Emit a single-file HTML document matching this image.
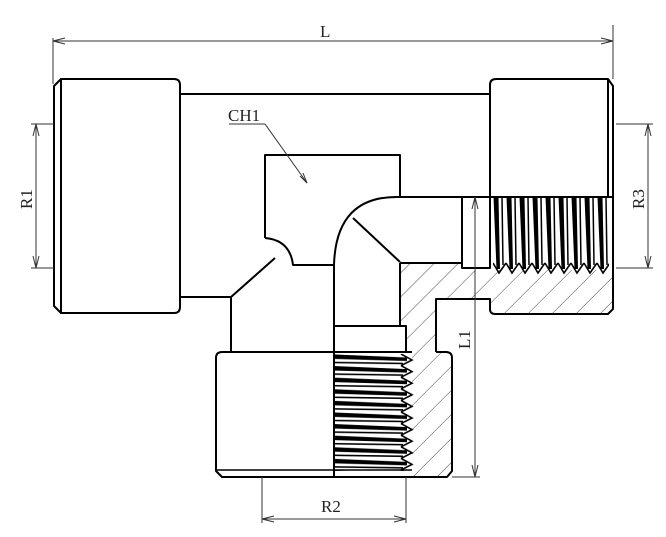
<!DOCTYPE html>
<html><head><meta charset="utf-8"><style>
html,body{margin:0;padding:0;background:#fff;}
svg{display:block}
text{font-family:"Liberation Serif","Times New Roman",serif;fill:#222;font-size:17px}
</style></head><body>
<svg width="666" height="537" viewBox="0 0 666 537" xmlns="http://www.w3.org/2000/svg">
<defs>
<pattern id="hatch" patternUnits="userSpaceOnUse" width="17" height="17" patternTransform="rotate(45)">
<line x1="0" y1="0" x2="0" y2="17" stroke="#333" stroke-width="0.9"/>
</pattern>
<pattern id="thR" patternUnits="userSpaceOnUse" x="493" y="197" width="13" height="80">
<polygon points="0.5,0 5.5,0 7,72 3.5,72" fill="#000"/>
<line x1="9" y1="0" x2="10" y2="68" stroke="#000" stroke-width="1.5"/>
<polyline points="0,66 6,76 13,66" fill="none" stroke="#000" stroke-width="1.6"/>
</pattern>
<pattern id="thB" patternUnits="userSpaceOnUse" x="335" y="354" width="80" height="11.6">
<polygon points="0,0.5 0,5 72,7 72,3.5" fill="#000"/>
<line x1="0" y1="8.5" x2="68" y2="9.5" stroke="#000" stroke-width="1.5"/>
<polyline points="66,0 77,6 66,11.6" fill="none" stroke="#000" stroke-width="1.6"/>
</pattern>
</defs>

<polygon points="400,263 462,263 462,270 608,270 613,275 613,309 608,314 495,314 490,309 490,299 436,299 436,352 447,352 452,357 452,472 447,477 412,477 412,352 406,352 406,326 400,326" fill="url(#hatch)"/>

<g fill="none" stroke="#000" stroke-width="2" stroke-linejoin="round">
<path d="M54,86 L61,79 L174,79 Q180,79 180,85 L180,307 Q180,313 174,313 L61,313 L54,306 Z"/>
<line x1="61" y1="79" x2="61" y2="313"/>
<line x1="180" y1="94" x2="490" y2="94"/>
<path d="M180,297 L231,297 L275,258"/>
<line x1="231" y1="297" x2="231" y2="352"/>
<path d="M490,85 Q490,79 496,79 L608,79 L613,86 L613,309 L608,314 L495,314 Q490,314 490,309 L490,299 L436,299 L436,352"/>
<line x1="608" y1="79" x2="608" y2="197"/>
<line x1="490" y1="85" x2="490" y2="197"/>
<path d="M265,238 L265,155 L400,155 L400,197"/>
<path d="M265,238 Q290,240 293,265 L334,265"/>
<line x1="400" y1="197" x2="613" y2="197"/>
<path d="M400,197 Q336,195 334,265 L334,477"/>
<line x1="353" y1="218" x2="400" y2="262"/>
<path d="M400,263 L462,263"/>
<rect x="462" y="197" width="28" height="71"/>
<line x1="400" y1="263" x2="400" y2="326"/>
<rect x="334" y="326" width="72" height="26"/>
<path d="M222,352 L412,352"/>
<path d="M436,352 L446,352 Q452,352 452,358 L452,471 L447,477 L222,477 L216,471 L216,358 Q216,352 222,352"/>
<line x1="216" y1="470" x2="412" y2="470" stroke-width="1.5"/>
</g>

<rect x="493" y="197" width="116" height="79" fill="url(#thR)"/>
<rect x="335" y="354" width="80" height="117" fill="url(#thB)"/>

<g stroke="#333" stroke-width="1" fill="none">
<line x1="53" y1="38" x2="53" y2="84"/>
<line x1="613" y1="25" x2="613" y2="79"/>
<line x1="53" y1="41" x2="613" y2="41"/>
<path d="M65,38 L53,41 L65,44 M601,38 L613,41 L601,44"/>
<line x1="31" y1="124" x2="54" y2="124"/>
<line x1="31" y1="268" x2="54" y2="268"/>
<line x1="36" y1="124" x2="36" y2="268"/>
<path d="M33,136 L36,124 L39,136 M33,256 L36,268 L39,256"/>
<line x1="616" y1="124" x2="653" y2="124"/>
<line x1="616" y1="268" x2="653" y2="268"/>
<line x1="648" y1="124" x2="648" y2="268"/>
<path d="M645,136 L648,124 L651,136 M645,256 L648,268 L651,256"/>
<line x1="475" y1="197" x2="475" y2="477"/>
<line x1="452" y1="477" x2="480" y2="477"/>
<path d="M472,209 L475,197 L478,209 M472,465 L475,477 L478,465"/>
<line x1="262" y1="477" x2="262" y2="523"/>
<line x1="406" y1="477" x2="406" y2="523"/>
<line x1="262" y1="519" x2="406" y2="519"/>
<path d="M274,516 L262,519 L274,522 M394,516 L406,519 L394,522"/>
<line x1="229" y1="124" x2="265" y2="124"/>
<line x1="265" y1="124" x2="307" y2="183"/>
<path d="M300,176 L307,183 L303,173"/>
</g>

<text x="320" y="37">L</text>
<text x="228" y="121">CH1</text>
<text x="321" y="512">R2</text>
<text transform="translate(32,209) rotate(-90)">R1</text>
<text transform="translate(644,209) rotate(-90)">R3</text>
<text transform="translate(470,349) rotate(-90)">L1</text>
</svg>
</body></html>
